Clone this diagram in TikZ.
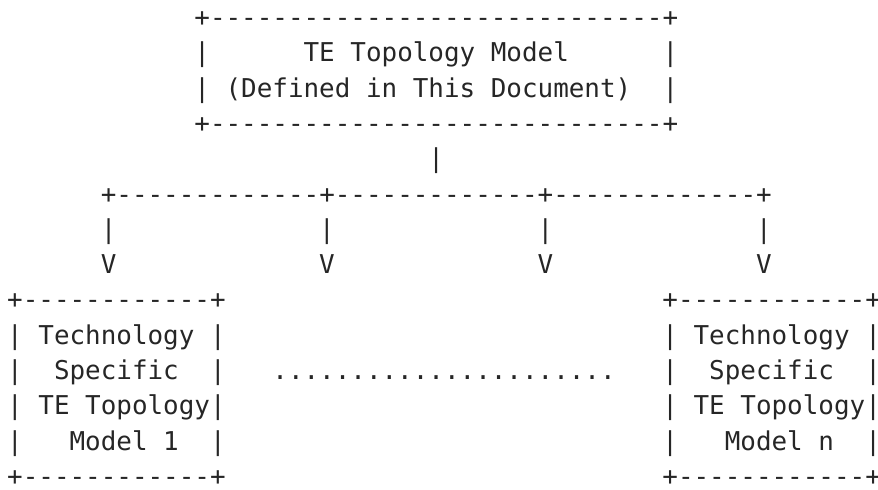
\documentclass[tikz,border=0pt]{standalone}
\usepackage{fontspec}
\setmonofont{DejaVu Sans Mono}
\tikzset{asc/.style={anchor=base west, inner sep=0pt, outer sep=0pt,
  font=\ttfamily\fontsize{12.96pt}{15pt}\selectfont, text=black!85}}
% place text #4 named #1 at column #2, row #3 of the character grid
\newcommand\ascline[4]{\node[asc] (#1) at ({(3.6+7.8*#2)*1pt},{-(13.25+17.65*#3)*1pt}) {#4};}
\begin{document}
\begin{tikzpicture}
\useasboundingbox (0,0) rectangle (439pt,-244.5pt);
% top box
\ascline{topA}{12}{0}{+-----------------------------+}
\ascline{topB}{12}{1}{|~~~~~~TE Topology Model~~~~~~|}
\ascline{topC}{12}{2}{|~(Defined in This Document)~~|}
\ascline{topD}{12}{3}{+-----------------------------+}
% tree
\ascline{stem}{27}{4}{|}
\ascline{bus}{6}{5}{+-------------+-------------+-------------+}
\ascline{drop1}{6}{6}{|}
\ascline{drop2}{20}{6}{|}
\ascline{drop3}{34}{6}{|}
\ascline{drop4}{48}{6}{|}
\ascline{arr1}{6}{7}{V}
\ascline{arr2}{20}{7}{V}
\ascline{arr3}{34}{7}{V}
\ascline{arr4}{48}{7}{V}
% left box
\ascline{lA}{0}{8}{+------------+}
\ascline{lB}{0}{9}{|~Technology~|}
\ascline{lC}{0}{10}{|~~Specific~~|}
\ascline{lD}{0}{11}{|~TE Topology|}
\ascline{lE}{0}{12}{|~~~Model 1~~|}
\ascline{lF}{0}{13}{+------------+}
% dots
\ascline{dots}{17}{10}{......................}
% right box
\ascline{rA}{42}{8}{+------------+}
\ascline{rB}{42}{9}{|~Technology~|}
\ascline{rC}{42}{10}{|~~Specific~~|}
\ascline{rD}{42}{11}{|~TE Topology|}
\ascline{rE}{42}{12}{|~~~Model n~~|}
\ascline{rF}{42}{13}{+------------+}
\end{tikzpicture}
\end{document}
